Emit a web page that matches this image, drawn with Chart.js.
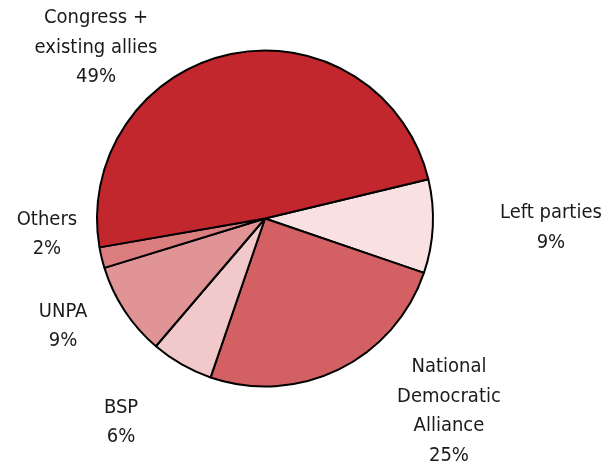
<!DOCTYPE html>
<html>
<head>
<meta charset="utf-8">
<script src="https://cdn.jsdelivr.net/npm/chart.js@4/dist/chart.umd.min.js"></script>
<style>
html,body{margin:0;padding:0;background:#fff;}
#wrap{width:609px;height:468px;position:relative;}
</style>
</head>
<body>
<div id="wrap"><canvas id="c" width="609" height="468"></canvas></div>
<script>
const categories = ["Left parties", "National Democratic Alliance", "BSP", "UNPA", "Others", "Congress + existing allies"];
const labelLines = [["Left parties"], ["National", "Democratic", "Alliance"], ["BSP"], ["UNPA"], ["Others"], ["Congress +", "existing allies"]];
const shares = [9, 25, 6, 9, 2, 49];
const colors = ["#F9E1E2", "#D36163", "#F2C9CA", "#E09495", "#DB7E80", "#C1272D"];
// label block centre offsets, in units of the pie radius from the pie centre
const labelOffsets = [[1.702, 0.054], [1.095, 1.149], [-0.857, 1.214], [-1.202, 0.643], [-1.298, 0.095], [-1.006, -1.018]];

const labelPlugin = {
  id: 'outerLabels',
  afterDatasetsDraw(chart) {
    const ctx = chart.ctx;
    const meta = chart.getDatasetMeta(0);
    const ds = chart.data.datasets[0];
    ctx.save();
    ctx.font = '20px "DejaVu Sans Condensed", "DejaVu Sans", sans-serif';
    ctx.fillStyle = '#1a1a1a';
    ctx.textAlign = 'center';
    ctx.textBaseline = 'middle';
    const lh = 29.5;
    meta.data.forEach((arc, i) => {
      const r = arc.outerRadius;
      const cx = arc.x + labelOffsets[i][0] * r;
      const cy = arc.y + labelOffsets[i][1] * r;
      const lines = labelLines[i].concat([ds.data[i] + '%']);
      const top = cy - (lines.length - 1) * lh / 2;
      lines.forEach((t, k) => ctx.fillText(t, cx, top + k * lh));
    });
    ctx.restore();
  }
};

new Chart(document.getElementById('c'), {
  type: 'pie',
  data: {
    labels: categories,
    datasets: [{
      data: shares,
      backgroundColor: colors,
      borderColor: '#000',
      borderWidth: 2,
      borderAlign: 'center'
    }]
  },
  options: {
    responsive: false,
    animation: false,
    rotation: 76.5,
    layout: { padding: { left: 96, right: 175, top: 49, bottom: 80 } },
    plugins: { legend: { display: false }, tooltip: { enabled: false } }
  },
  plugins: [labelPlugin]
});
</script>
</body>
</html>
